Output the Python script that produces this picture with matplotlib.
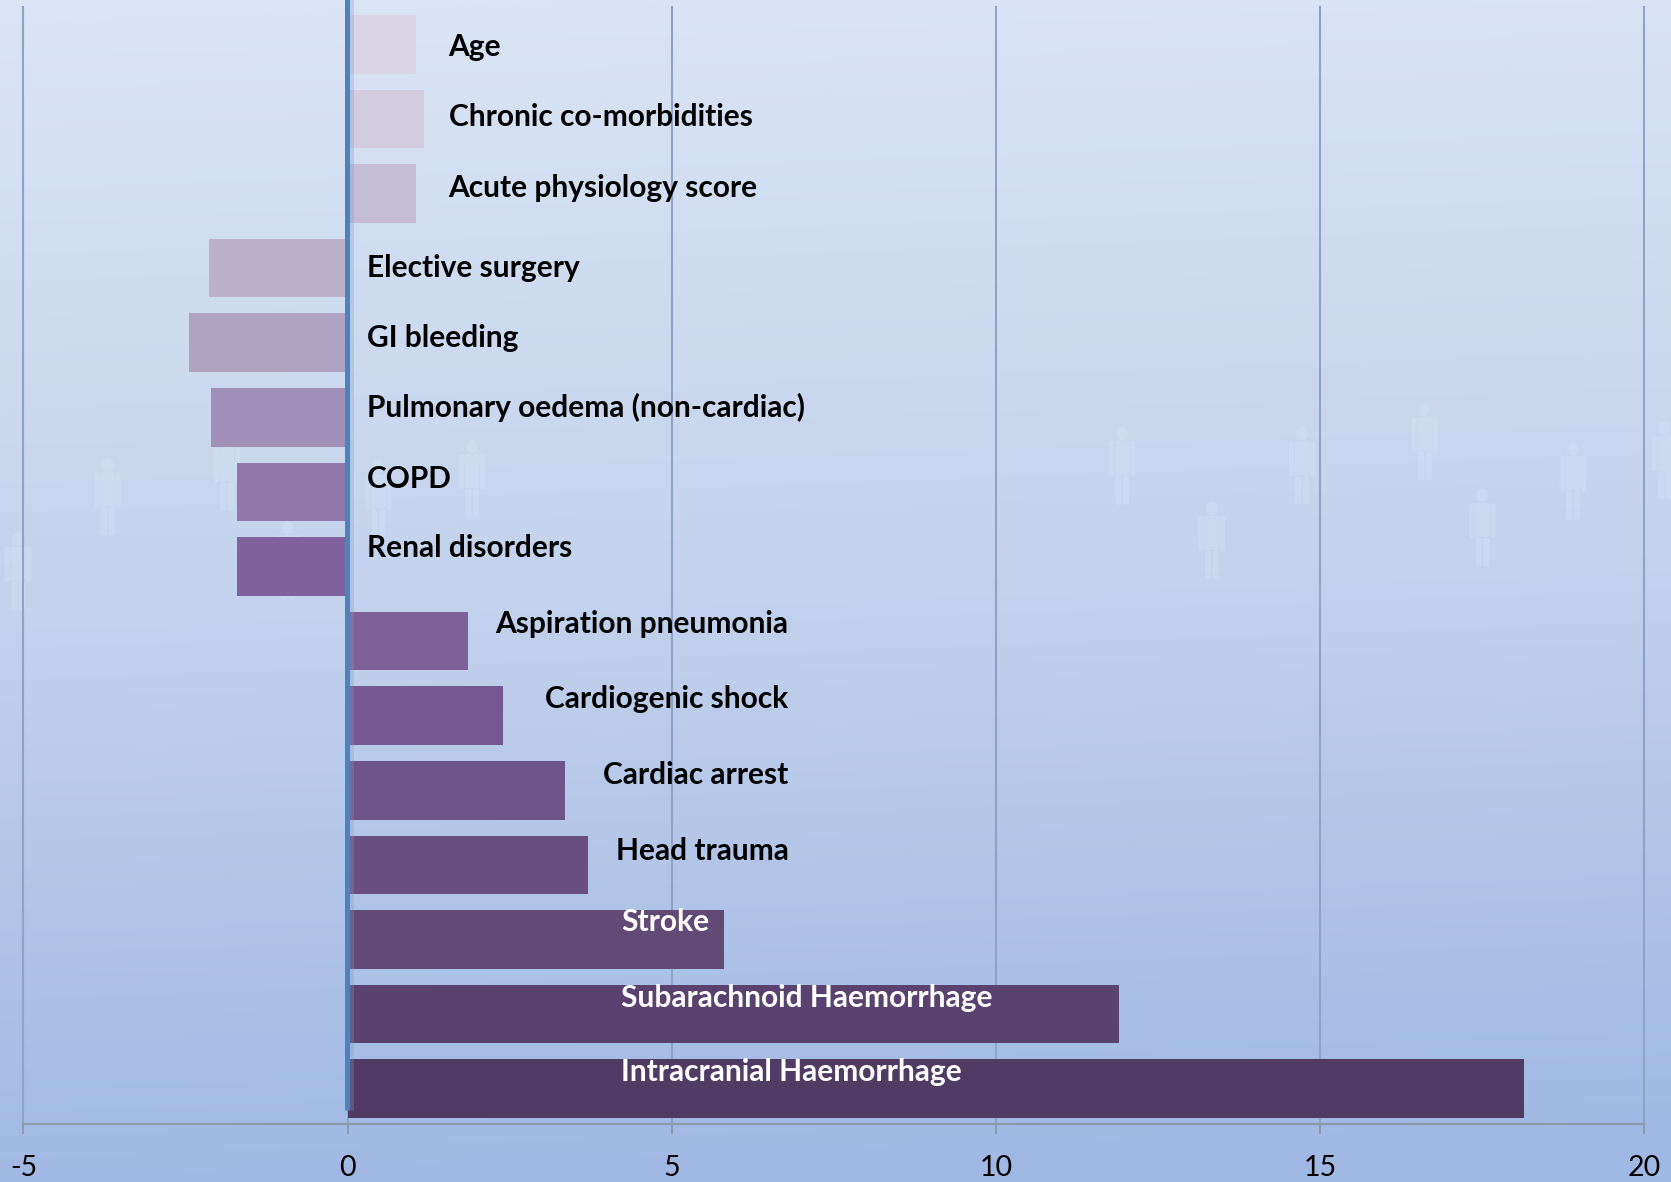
import numpy as np
import matplotlib
matplotlib.use('Agg')
import matplotlib.pyplot as plt
from matplotlib.patches import Ellipse, FancyBboxPatch

categories = ['Age', 'Chronic co-morbidities', 'Acute physiology score', 'Elective surgery',
              'GI bleeding', 'Pulmonary oedema (non-cardiac)', 'COPD', 'Renal disorders',
              'Aspiration pneumonia', 'Cardiogenic shock', 'Cardiac arrest', 'Head trauma',
              'Stroke', 'Subarachnoid Haemorrhage', 'Intracranial Haemorrhage']
values = [1.05, 1.18, 1.05, -2.14, -2.45, -2.10, -1.70, -1.70,
          1.85, 2.40, 3.35, 3.70, 5.80, 11.90, 18.15]
bar_colors = ['#DAD5E5', '#D2CCDE', '#C5BDD5', '#BCB2CC', '#AEA3C3', '#A08FB7', '#9078AA', '#80629F',
              '#7E6099', '#755891', '#6F5489', '#694F82', '#614A76', '#5A4270', '#503B65']
x_ticks = [-5, 0, 5, 10, 15, 20]

# label position in the shrunk picture: x, y, alignment, colour
label_x = [421, 421, 421, 344, 344, 344, 344, 344, 740, 740, 740, 740, 583, 583, 583]
label_y = [44, 110, 176, 251, 317, 382, 449, 514, 585, 656, 727, 798, 865, 936, 1006]
label_ha = ['left'] * 8 + ['right'] * 4 + ['left'] * 3
label_col = ['black'] * 12 + ['white'] * 3

people_x = [17, 101, 213, 270, 355, 443, 1053, 1137, 1222, 1337, 1391, 1476, 1562]
people_y = [536, 466, 443, 525, 468, 449, 437, 507, 437, 414, 495, 451, 432]

W, H = 1568.0, 1109.0
plt.rcParams['font.family'] = ['Lato', 'DejaVu Sans']
fig = plt.figure(figsize=(16.71, 11.82), dpi=100)

# background gradient
bg = fig.add_axes([0, 0, 1, 1], zorder=0)
yy, xx = np.mgrid[0:1:300j, 0:1:300j]
t = np.clip(yy + 0.05 * xx - 0.02, 0, 1)
top = np.array([218, 228, 244]) / 255.0
mid = np.array([195, 210, 237]) / 255.0
bot = np.array([160, 184, 228]) / 255.0
img = np.zeros(yy.shape + (3,))
for c in range(3):
    img[..., c] = np.interp(t, [0, 0.5, 1], [top[c], mid[c], bot[c]])
bg.imshow(img, extent=[0, W, H, 0], aspect='auto', interpolation='bilinear')
bg.set_xlim(0, W)
bg.set_ylim(H, 0)
bg.axis('off')

# faint people
pc = '#D3E6F6'
pa = 0.38
def block(x0, y0, w, h, r=2):
    bg.add_patch(FancyBboxPatch((x0, y0), w, h, boxstyle='round,pad=0,rounding_size=%g' % r,
                                fc=pc, ec='none', alpha=pa))

for px, py in zip(people_x, people_y):
    bg.add_patch(Ellipse((px, py - 30), 11, 13, fc=pc, ec='none', alpha=pa))
    block(px - 7, py - 23, 14, 32)
    block(px - 12.5, py - 23, 5, 33)
    block(px + 7.5, py - 23, 5, 33)
    block(px - 6.5, py + 9.5, 6, 27)
    block(px + 0.5, py + 9.5, 6, 27)

# main chart
ax = fig.add_axes([22 / W, 1 - 1055 / H, (1543 - 22) / W, (1055 - 7) / H], zorder=1)
ax.patch.set_alpha(0)
y = np.arange(len(categories))
ax.barh(y, values, height=0.786, color=bar_colors, zorder=3)
ax.set_xlim(-5, 20)
ax.set_ylim(14.48, -0.493)
ax.set_xticks(x_ticks)
ax.set_yticks([])
ax.grid(axis='x', color='#8DA4C8', lw=1.5, zorder=1, clip_on=False)
for s in ['top', 'left', 'right']:
    ax.spines[s].set_visible(False)
ax.spines['bottom'].set_color('#8C9AAE')
ax.spines['bottom'].set_linewidth(1.6)
ax.tick_params(axis='x', length=7, width=1.4, color='#8C9AAE', labelsize=20.5, pad=15, labelcolor='black')
ax.set_xticklabels([str(v) for v in x_ticks])
ax.plot([0.03, 0.03], [-0.6, 14.29], color='#7F9CC4', lw=5, alpha=0.3, solid_capstyle='butt', zorder=4, clip_on=False)
ax.plot([-0.008, -0.008], [-0.6, 14.29], color='#4F81BD', lw=3.6, solid_capstyle='butt', zorder=5, clip_on=False)

# labels
over = fig.add_axes([0, 0, 1, 1], zorder=2)
over.patch.set_alpha(0)
over.set_xlim(0, W)
over.set_ylim(H, 0)
over.axis('off')
for name, lx, ly, ha, col in zip(categories, label_x, label_y, label_ha, label_col):
    over.text(lx, ly, name, ha=ha, va='center', color=col, fontsize=21.5, fontweight='bold')

fig.savefig('out.png', dpi=100)
